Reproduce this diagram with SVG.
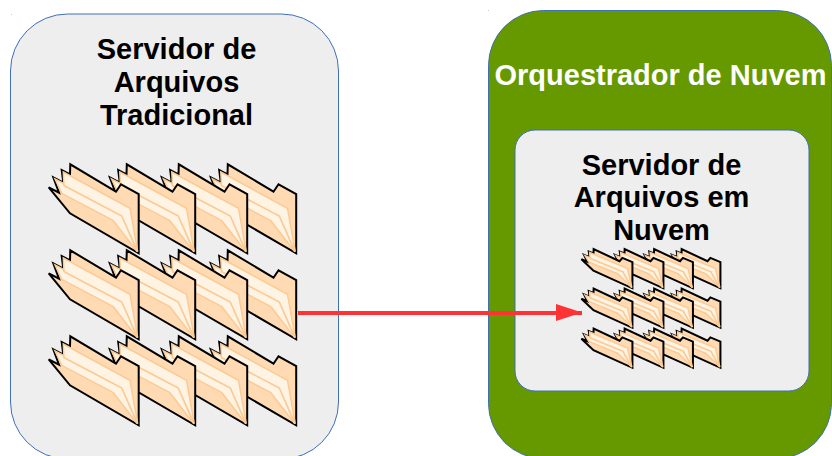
<svg xmlns="http://www.w3.org/2000/svg" width="832" height="456" viewBox="0 0 832 456">
<style>
.box{stroke:#3f6fb5;stroke-width:1}
.grey{fill:#eeeeee}
.green{fill:#669900}
text{font-family:"Liberation Sans",Arial,sans-serif;font-weight:700;font-size:29px;text-anchor:middle;fill:#000}
.white{fill:#fff}
.body{fill:#ffdab3;stroke:#000;stroke-width:2;stroke-linejoin:miter;vector-effect:non-scaling-stroke}
.small .body{stroke-width:1.4}
.paper{fill:#fff3e4;stroke:#fccb95;stroke-width:1.5;vector-effect:non-scaling-stroke}
.conn{stroke:#ff3333;stroke-width:4;fill:none}
</style>
<defs>
<marker id="head" markerUnits="userSpaceOnUse" markerWidth="26" markerHeight="18" refX="26" refY="9" orient="auto"><path d="M0 0L26 8.500L0 17z" fill="#ff3333"/></marker>
<g id="folder">
<path class="body" d="M0.700 23.300L11 28.700L5.300 13.300L15.300 18.700L13.700 6L22 10.300L22.300 0.300L68 27.700L73 20.300L90.700 30L90.700 89.300L22 49.300z"/>
<path class="paper" d="M15.300 8L82 44.300L89.700 87.700L73.700 52L16 21.700z"/>
<path class="paper" d="M7 15L15.300 19.300L16 21.700L73.700 52L89.300 87.700L65.300 56.700L13.700 29.300z"/>
</g>
</defs>
<rect x="11" y="14" width="1" height="1" fill="#b9cbe6"/>
<rect x="488" y="10" width="1" height="1" fill="#b9cbe6"/>
<g id="servidor-tradicional">
<rect class="box grey" x="10.500" y="14" width="328" height="445" rx="57"/>
<text x="176.500" y="59">Servidor de</text>
<text x="176.500" y="92">Arquivos</text>
<text x="176.500" y="125">Tradicional</text>
<g id="pastas-tradicional">
<use href="#folder" x="205.500" y="336"/><use href="#folder" x="156.500" y="336"/><use href="#folder" x="104.500" y="336"/><use href="#folder" x="48" y="336"/>
<use href="#folder" x="205.500" y="250"/><use href="#folder" x="156.500" y="250"/><use href="#folder" x="104.500" y="250"/><use href="#folder" x="48" y="250"/>
<use href="#folder" x="205.500" y="164"/><use href="#folder" x="156.500" y="164"/><use href="#folder" x="104.500" y="164"/><use href="#folder" x="48" y="164"/>
</g>
</g>
<g id="orquestrador">
<rect class="box green" x="488.500" y="10.500" width="343" height="448" rx="55"/>
<text class="white" x="660.500" y="85">Orquestrador de Nuvem</text>
</g>
<g id="servidor-nuvem">
<rect class="box grey" x="515" y="130" width="294" height="261" rx="20"/>
<text x="661.500" y="175">Servidor de</text>
<text x="661.500" y="207">Arquivos em</text>
<text x="661.500" y="240">Nuvem</text>
<g id="pastas-nuvem" class="small">
<use href="#folder" transform="translate(669 328.500) scale(.567 .44)"/><use href="#folder" transform="translate(641.500 328.500) scale(.567 .44)"/><use href="#folder" transform="translate(612 328.500) scale(.567 .44)"/><use href="#folder" transform="translate(581 328.500) scale(.567 .44)"/>
<use href="#folder" transform="translate(669 288.500) scale(.567 .44)"/><use href="#folder" transform="translate(641.500 288.500) scale(.567 .44)"/><use href="#folder" transform="translate(612 288.500) scale(.567 .44)"/><use href="#folder" transform="translate(581 288.500) scale(.567 .44)"/>
<use href="#folder" transform="translate(669 249) scale(.567 .44)"/><use href="#folder" transform="translate(641.500 249) scale(.567 .44)"/><use href="#folder" transform="translate(612 249) scale(.567 .44)"/><use href="#folder" transform="translate(581 249) scale(.567 .44)"/>
</g>
</g>
<g id="conectores">
<line class="conn" x1="298" y1="313" x2="582" y2="313" marker-end="url(#head)"/>
</g>
</svg>
